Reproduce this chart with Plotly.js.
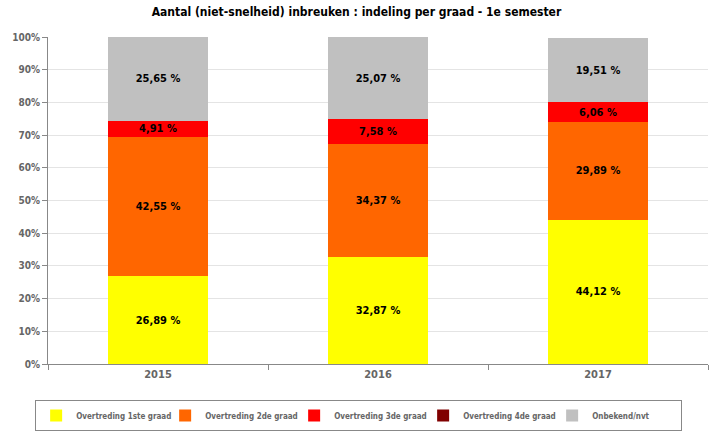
<!DOCTYPE html>
<html>
<head>
<meta charset="utf-8">
<script src="https://cdn.plot.ly/plotly-3.0.1.min.js"></script>
<style>html,body{margin:0;padding:0;background:#fff;}#chart{width:713px;height:433px;}</style>
</head>
<body>
<div id="chart"></div>
<script>
var years = ['2015', '2016', '2017'];
var seriesNames = ['Overtreding 1ste graad', 'Overtreding 2de graad', 'Overtreding 3de graad', 'Overtreding 4de graad', 'Onbekend/nvt'];
var graad1 = [26.89, 32.87, 44.12];
var graad2 = [42.55, 34.37, 29.89];
var graad3 = [4.91, 7.58, 6.06];
var graad4 = [0, 0, 0];
var onbekend = [25.65, 25.07, 19.51];
var yTickVals = [0, 10, 20, 30, 40, 50, 60, 70, 80, 90, 100];
var yTickText = ['0%', '10%', '20%', '30%', '40%', '50%', '60%', '70%', '80%', '90%', '100%'];

var colors = ['#FFFF00', '#FF6600', '#FF0000', '#800000', '#C0C0C0'];
var allValues = [graad1, graad2, graad3, graad4, onbekend];
var FONT = 'DejaVu Sans Condensed, DejaVu Sans, sans-serif';

function fmt(v) { return v > 0 ? v.toFixed(2).replace('.', ',') + ' %' : ''; }

var traces = allValues.map(function (vals, i) {
  return {
    type: 'bar',
    name: seriesNames[i],
    x: years,
    y: vals,
    text: vals.map(fmt),
    textposition: 'inside',
    insidetextanchor: 'middle',
    constraintext: 'none',
    textangle: 0,
    textfont: {family: FONT, size: 11, color: '#000', weight: 'bold'},
    marker: {color: colors[i], line: {width: 0}},
    hoverinfo: 'none'
  };
});

var layout = {
  width: 713,
  height: 433,
  barmode: 'stack',
  bargap: 0.545,
  paper_bgcolor: '#fff',
  plot_bgcolor: '#fff',
  margin: {l: 48, r: 5, t: 37, b: 69},
  font: {family: FONT, color: '#666'},
  title: {
    text: 'Aantal (niet-snelheid) inbreuken : indeling per graad - 1e semester',
    font: {family: FONT, size: 12, color: '#000', weight: 'bold'},
    x: 0.5, xanchor: 'center', y: 0.972, yanchor: 'middle', yref: 'container'
  },
  xaxis: {
    type: 'category',
    showline: true, linecolor: '#888', linewidth: 1,
    ticks: 'outside', tickson: 'boundaries', ticklen: 5, tickcolor: '#888',
    tickfont: {family: FONT, size: 11, color: '#666', weight: 'bold'},
    showgrid: false,
    fixedrange: true
  },
  yaxis: {
    range: [0, 100],
    tickvals: yTickVals, ticktext: yTickText,
    showline: true, linecolor: '#888', linewidth: 1,
    ticks: 'outside', ticklen: 5, tickcolor: '#888',
    tickfont: {family: FONT, size: 10, color: '#666', weight: 'bold'},
    showgrid: true, gridcolor: '#e4e4e4', gridwidth: 1,
    zeroline: false,
    fixedrange: true
  },
  legend: {
    orientation: 'h',
    xref: 'container', yref: 'container',
    x: 0.503, xanchor: 'center',
    y: 0.076, yanchor: 'top',
    bordercolor: '#888', borderwidth: 1,
    font: {family: FONT, size: 8, color: '#666', weight: 'bold'},
    traceorder: 'normal',
    itemwidth: 30,
    entrywidth: 84, entrywidthmode: 'pixels'
  },
  showlegend: true
};

Plotly.newPlot('chart', traces, layout, {displayModeBar: false, staticPlot: true});
</script>
</body>
</html>
